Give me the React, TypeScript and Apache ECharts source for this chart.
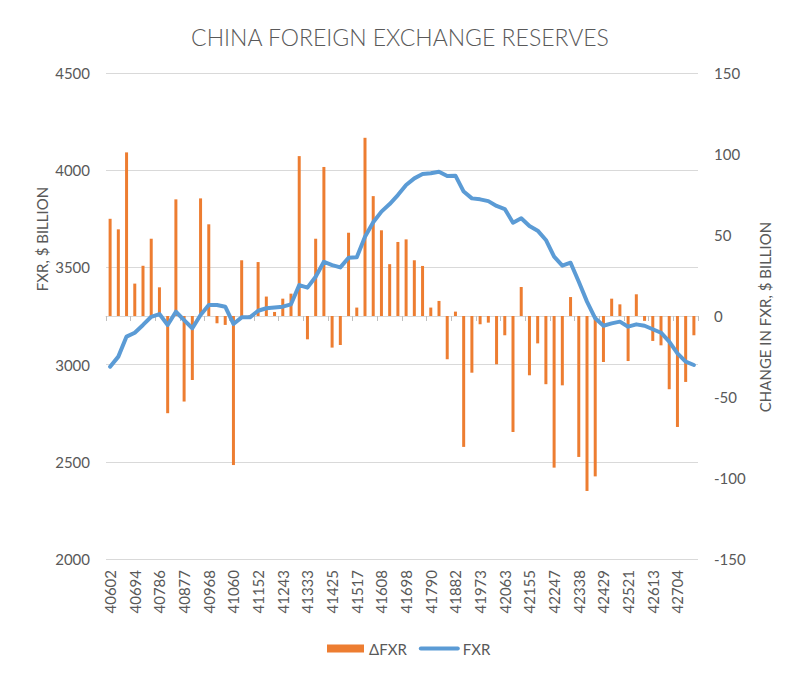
import React, { useEffect, useRef } from "react";
import * as echarts from "echarts";

const categories = [
  "40602", "40633", "40663", "40694", "40724", "40755", "40786", "40816", "40847", "40877", "40908",
  "40939", "40968", "40999", "41029", "41060", "41090", "41121", "41152", "41182", "41213", "41243", "41274",
  "41305", "41333", "41364", "41394", "41425", "41455", "41486", "41517", "41547", "41578", "41608", "41639",
  "41670", "41698", "41729", "41759", "41790", "41820", "41851", "41882", "41912", "41943", "41973", "42004",
  "42035", "42063", "42094", "42124", "42155", "42185", "42216", "42247", "42277", "42308", "42338", "42369",
  "42400", "42429", "42460", "42490", "42521", "42551", "42582", "42613", "42643", "42674", "42704", "42735",
  "42766",
];

const changeFXR = [
  60, 53.5, 101, 20, 31, 47.7, 17.7, -60, 72, -52.8,
  -39.5, 72.6, 56.6, -4.5, -5.5, -92, 34.4, 0.5, 33.3, 12,
  2.5, 10.7, 13.8, 98.7, -14.4, 47.7, 92, -19.5, -17.9, 51.4,
  5.2, 110, 74, 52.9, 32, 45.7, 47.3, 34.4, 30.9, 5.2,
  9.3, -26.7, 2.7, -80.8, -35, -5.1, -4.1, -29.8, -11.9, -71.6,
  17.9, -36.6, -16.9, -42.1, -93.6, -42.8, 11.7, -87, -108, -99,
  -28.4, 10.7, 7.2, -27.8, 13.4, -3, -15.4, -18.1, -45.2, -68.5,
  -40.7, -11.9,
];

const fxr = [
  2989, 3041, 3144, 3164, 3204, 3246, 3260, 3204, 3272, 3229,
  3187, 3255, 3307, 3307, 3298, 3209, 3243, 3243, 3277, 3290,
  3294, 3298, 3310, 3409, 3396, 3452, 3529, 3512, 3500, 3550,
  3552, 3658, 3732, 3787, 3826, 3872, 3924, 3958, 3980, 3984,
  3992, 3970, 3972, 3890, 3855, 3850, 3841, 3816, 3800, 3730,
  3753, 3713, 3689, 3641, 3555, 3509, 3524, 3426, 3324, 3238,
  3200, 3212, 3221, 3195, 3207, 3200, 3182, 3164, 3118, 3058,
  3015, 2998,
];

const FONT = "Lato, 'DejaVu Sans', sans-serif";
const TEXT = "#595959";
const GRID = "#d9d9d9";

export default function App() {
  const ref = useRef<HTMLDivElement>(null);

  useEffect(() => {
    if (!ref.current) return;
    const chart = echarts.init(ref.current, undefined, { renderer: "svg" });
    chart.setOption({
      animation: false,
      backgroundColor: "#ffffff",
      title: {
        text: "CHINA FOREIGN EXCHANGE RESERVES",
        left: "center",
        top: 20,
        textStyle: { fontFamily: FONT, fontSize: 23, fontWeight: 300, color: TEXT },
      },
      grid: { left: 106, right: 102, top: 73, bottom: 114, containLabel: false },
      legend: {
        left: 322,
        top: 636,
        itemWidth: 37,
        itemHeight: 8,
        itemGap: 12,
        textStyle: { fontFamily: FONT, fontSize: 15, color: TEXT },
        data: [
          { name: "ΔFXR", icon: "rect" },
          { name: "FXR", itemStyle: { opacity: 0 }, lineStyle: { width: 4, color: "#5B9BD5" } },
        ],
      },
      xAxis: {
        type: "category",
        data: categories,
        boundaryGap: true,
        axisLine: { lineStyle: { color: GRID } },
        axisTick: { show: true, interval: 2, length: 5, lineStyle: { color: "#bfbfbf" } },
        axisLabel: {
          interval: 2,
          rotate: 90,
          margin: 11,
          color: TEXT,
          fontFamily: FONT,
          fontSize: 15,
        },
      },
      yAxis: [
        {
          type: "value",
          min: 2000,
          max: 4500,
          interval: 500,
          axisLine: { show: false },
          axisTick: { show: false },
          splitLine: { lineStyle: { color: GRID } },
          axisLabel: {
            margin: 16,
            color: TEXT,
            fontFamily: FONT,
            fontSize: 15,
            formatter: (v: number) => String(v),
          },
        },
        {
          type: "value",
          min: -150,
          max: 150,
          interval: 50,
          position: "right",
          axisLine: { show: false },
          axisTick: { show: false },
          splitLine: { show: false },
          axisLabel: {
            margin: 16,
            color: TEXT,
            fontFamily: FONT,
            fontSize: 15,
            formatter: (v: number) => String(v),
          },
        },
      ],
      graphic: [
        {
          type: "text",
          x: 42,
          y: 239,
          rotation: Math.PI / 2,
          style: {
            text: "FXR, $ BILLION",
            fill: TEXT,
            font: `15px ${FONT}`,
            align: "center",
            verticalAlign: "middle",
          },
        },
        {
          type: "text",
          x: 765,
          y: 317,
          rotation: Math.PI / 2,
          style: {
            text: "CHANGE IN FXR, $ BILLION",
            fill: TEXT,
            font: `15px ${FONT}`,
            align: "center",
            verticalAlign: "middle",
          },
        },
      ],
      series: [
        {
          name: "ΔFXR",
          type: "bar",
          yAxisIndex: 1,
          data: changeFXR,
          barWidth: 3,
          itemStyle: { color: "#ED7D31" },
          z: 2,
        },
        {
          name: "FXR",
          type: "line",
          yAxisIndex: 0,
          data: fxr,
          symbol: "none",
          smooth: false,
          lineStyle: { color: "#5B9BD5", width: 4, join: "round", cap: "round" },
          itemStyle: { color: "#5B9BD5" },
          z: 3,
        },
      ],
    });
    return () => chart.dispose();
  }, []);

  return (
    <div
      ref={ref}
      style={{ position: "absolute", left: 0, top: 0, width: 800, height: 673 }}
    />
  );
}
